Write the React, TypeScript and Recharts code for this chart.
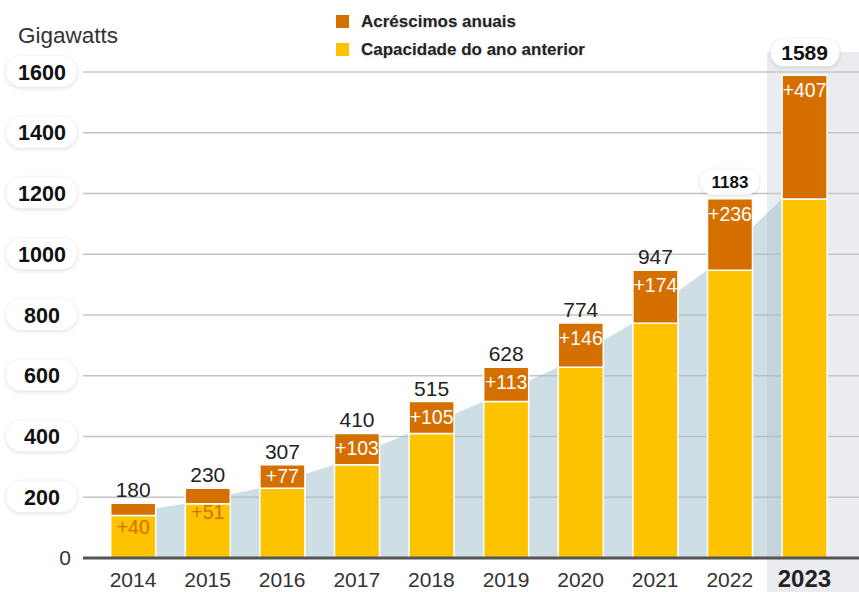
import React from 'react'
import {
  Area,
  Bar,
  CartesianGrid,
  ComposedChart,
  LabelList,
  ReferenceArea,
  XAxis,
  YAxis,
} from 'recharts'

const years = ['2014', '2015', '2016', '2017', '2018', '2019', '2020', '2021', '2022', '2023']
const totals = [180, 230, 307, 410, 515, 628, 774, 947, 1183, 1589]
const additions = [40, 51, 77, 103, 105, 113, 146, 174, 236, 407]
const yTicks = [0, 200, 400, 600, 800, 1000, 1200, 1400, 1600]

const ORANGE = '#d46f00'
const YELLOW = '#fdc300'
const FONT = '"Liberation Sans", Arial, Helvetica, sans-serif'
const W = 859
const H = 592
const Y_AXIS_W = 83
const PAD_L = 12.7
const PAD_R = 17.3
const BAR = 45

// the shaded area sits at the left edge of each bar, so shift the hidden number axis
const band = (W - Y_AXIS_W - PAD_L - PAD_R) / years.length
const shift = (band - BAR) / 2 / band

const data = years.map((year, i) => ({
  year,
  idx: i,
  total: totals[i],
  add: additions[i],
  prev: totals[i] - additions[i],
}))

const pillShadow = { filter: 'drop-shadow(0 1px 2px rgba(0,0,0,0.14))' }

function YTick({ x, y, payload }: any) {
  if (payload.value === 0) {
    return (
      <text x={x - 18} y={y + 7} textAnchor="middle" fontSize={21} fill="#333" fontFamily={FONT}>
        0
      </text>
    )
  }
  return (
    <g>
      <rect x={x - 77} y={y - 16} width={71} height={31} rx={15.5} fill="#fff" style={pillShadow} />
      <text x={x - 41} y={y + 7.5} textAnchor="middle" fontSize={21.5} fontWeight={700} fill="#111" fontFamily={FONT}>
        {payload.value}
      </text>
    </g>
  )
}

function XTick({ x, y, payload }: any) {
  const last = payload.value === years[years.length - 1]
  return (
    <text
      x={x}
      y={y + 29}
      textAnchor="middle"
      fontSize={last ? 24 : 21}
      fontWeight={last ? 700 : 400}
      fill={last ? '#222' : '#333'}
      fontFamily={FONT}
    >
      {payload.value}
    </text>
  )
}

function Highlight({ x, y, height }: any) {
  return <rect x={x} y={y - 20} width={W - x} height={height + 20 + (H - 558)} fill="#c6cbd3" fillOpacity={0.36} />
}

function TotalLabel({ x, y, width, value, index }: any) {
  const cx = x + width / 2
  if (index === years.length - 1) {
    return (
      <g>
        <rect x={cx - 34} y={y - 36} width={69} height={27} rx={13.5} fill="#fff" style={pillShadow} />
        <text x={cx} y={y - 15} textAnchor="middle" fontSize={21} fontWeight={700} fill="#111" fontFamily={FONT}>
          {value}
        </text>
      </g>
    )
  }
  if (index === years.length - 2) {
    return (
      <g>
        <rect x={cx - 30} y={y - 29} width={59} height={25} rx={12.5} fill="#fff" style={pillShadow} />
        <text x={cx} y={y - 10.5} textAnchor="middle" fontSize={17} fontWeight={700} fill="#111" fontFamily={FONT}>
          {value}
        </text>
      </g>
    )
  }
  return (
    <text x={cx} y={y - 6} textAnchor="middle" fontSize={21} fill="#222" fontFamily={FONT}>
      {value}
    </text>
  )
}

function AddLabel({ x, y, width, height, value }: any) {
  const cx = x + width / 2
  if (height < 20) {
    // segment too thin: label goes below it, on the yellow part
    return (
      <text x={cx} y={y + 31} textAnchor="middle" fontSize={19.5} fill={ORANGE} fontFamily={FONT}>
        +{value}
      </text>
    )
  }
  return (
    <text x={cx} y={y + Math.min(22, height / 2 + 7)} textAnchor="middle" fontSize={19.5} fill="#fff" fontFamily={FONT}>
      +{value}
    </text>
  )
}

const legendItems = [
  { label: 'Acréscimos anuais', color: ORANGE, top: 15 },
  { label: 'Capacidade do ano anterior', color: YELLOW, top: 43 },
]

export default function App() {
  return (
    <div style={{ position: 'absolute', left: 0, top: 0, width: W, height: H, background: '#fff', fontFamily: FONT }}>
      <ComposedChart width={W} height={H} data={data} margin={{ top: 72, right: 0, bottom: 0, left: 0 }}>
        <CartesianGrid vertical={false} stroke="#c4c4c4" strokeWidth={1.5} />
        <XAxis
          dataKey="year"
          height={H - 558}
          padding={{ left: PAD_L, right: PAD_R }}
          tickLine={false}
          tickSize={0}
          tickMargin={0}
          axisLine={{ stroke: '#555', strokeWidth: 3 }}
          tick={<XTick />}
          interval={0}
        />
        <XAxis
          xAxisId="a"
          dataKey="idx"
          type="number"
          domain={[-shift, years.length - shift]}
          allowDataOverflow
          padding={{ left: PAD_L, right: PAD_R }}
          hide
        />
        <YAxis
          width={Y_AXIS_W}
          domain={[0, 1600]}
          ticks={yTicks}
          interval={0}
          tickLine={false}
          tickSize={0}
          tickMargin={0}
          axisLine={false}
          tick={<YTick />}
        />
        <ReferenceArea x1="2023" x2="2023" y1={0} y2={1600} ifOverflow="visible" shape={<Highlight />} />
        <Area
          xAxisId="a"
          dataKey="prev"
          type="linear"
          fill="#9dbdcc"
          fillOpacity={0.5}
          stroke="none"
          isAnimationActive={false}
        />
        <Bar dataKey="prev" stackId="s" fill={YELLOW} stroke="#fff" strokeWidth={1.5} barSize={BAR} isAnimationActive={false} />
        <Bar dataKey="add" stackId="s" fill={ORANGE} stroke="#fff" strokeWidth={1.5} barSize={BAR} isAnimationActive={false}>
          <LabelList dataKey="total" content={<TotalLabel />} />
          <LabelList dataKey="add" content={<AddLabel />} />
        </Bar>
      </ComposedChart>

      <div style={{ position: 'absolute', left: 18, top: 23, fontSize: 22.5, color: '#333' }}>Gigawatts</div>

      {legendItems.map((d) => (
        <div key={d.label} style={{ position: 'absolute', left: 336, top: d.top, display: 'flex', alignItems: 'center' }}>
          <span style={{ width: 13, height: 13, background: d.color, display: 'inline-block' }} />
          <span
            style={{
              marginLeft: 12,
              fontSize: 17,
              fontWeight: 700,
              color: '#222',
              lineHeight: '13px',
              textShadow: '0 1px 2px rgba(0,0,0,0.18)',
            }}
          >
            {d.label}
          </span>
        </div>
      ))}
    </div>
  )
}
